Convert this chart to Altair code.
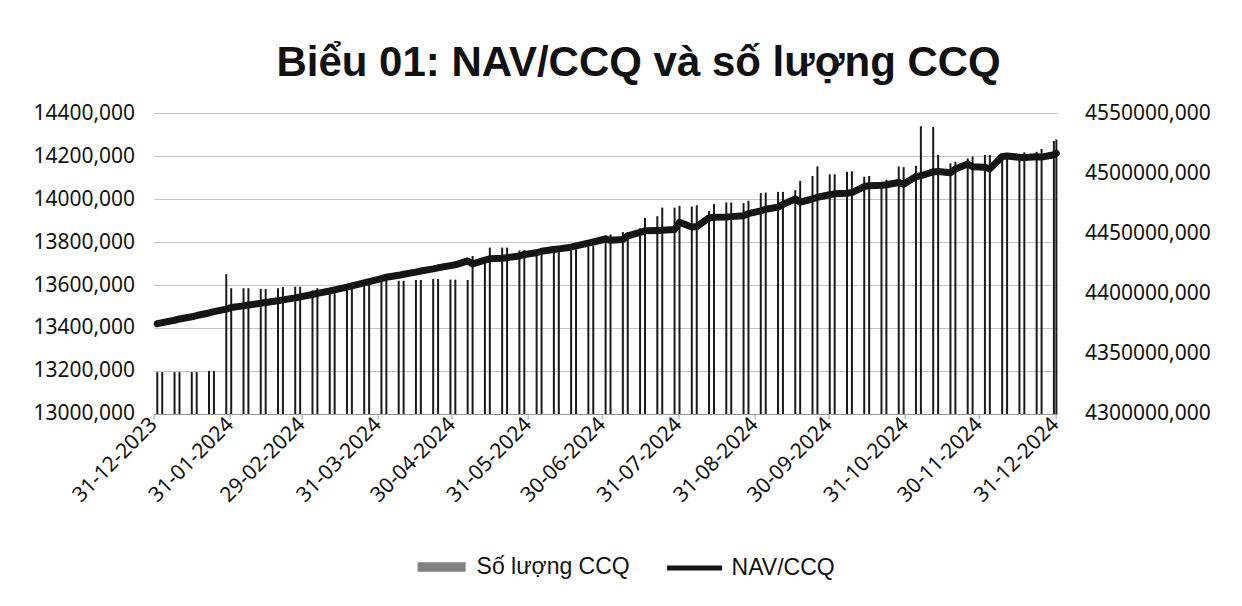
import altair as alt
import pandas as pd

DATES = [
    "2024-01-01", "2024-01-03", "2024-01-08", "2024-01-10", "2024-01-15", "2024-01-17", "2024-01-22", "2024-01-24", "2024-01-29", "2024-01-31",
    "2024-02-05", "2024-02-07", "2024-02-12", "2024-02-14", "2024-02-19", "2024-02-21", "2024-02-26", "2024-02-28",
    "2024-03-04", "2024-03-06", "2024-03-11", "2024-03-13", "2024-03-18", "2024-03-20", "2024-03-25", "2024-03-27",
    "2024-04-01", "2024-04-03", "2024-04-08", "2024-04-10", "2024-04-15", "2024-04-17", "2024-04-22", "2024-04-24", "2024-04-29",
    "2024-05-01", "2024-05-06", "2024-05-08", "2024-05-13", "2024-05-15", "2024-05-20", "2024-05-22", "2024-05-27", "2024-05-29",
    "2024-06-03", "2024-06-05", "2024-06-10", "2024-06-12", "2024-06-17", "2024-06-19", "2024-06-24", "2024-06-26",
    "2024-07-01", "2024-07-03", "2024-07-08", "2024-07-10", "2024-07-15", "2024-07-17", "2024-07-22", "2024-07-24", "2024-07-29", "2024-07-31",
    "2024-08-05", "2024-08-07", "2024-08-12", "2024-08-14", "2024-08-19", "2024-08-21", "2024-08-26", "2024-08-28",
    "2024-09-02", "2024-09-04", "2024-09-09", "2024-09-11", "2024-09-16", "2024-09-18", "2024-09-23", "2024-09-25", "2024-09-30",
    "2024-10-02", "2024-10-07", "2024-10-09", "2024-10-14", "2024-10-16", "2024-10-21", "2024-10-23", "2024-10-28", "2024-10-30",
    "2024-11-04", "2024-11-06", "2024-11-11", "2024-11-13", "2024-11-18", "2024-11-20", "2024-11-25", "2024-11-27",
    "2024-12-02", "2024-12-04", "2024-12-09", "2024-12-11", "2024-12-16", "2024-12-18", "2024-12-23", "2024-12-25", "2024-12-30", "2024-12-31",
]

NAV = [
    13420, 13425, 13436, 13442, 13452, 13458, 13470, 13476, 13488, 13495,
    13503, 13507, 13515, 13519, 13527, 13531, 13540, 13545,
    13556, 13561, 13572, 13577, 13590, 13596, 13610, 13616,
    13630, 13636, 13645, 13650, 13660, 13665, 13675, 13680, 13690,
    13694, 13712, 13698, 13716, 13722, 13724, 13727, 13735, 13742,
    13750, 13757, 13765, 13768, 13776, 13782, 13795, 13800,
    13814, 13808, 13812, 13828, 13845, 13852, 13854, 13855, 13858, 13892,
    13870, 13872, 13912, 13915, 13916, 13918, 13922, 13932,
    13945, 13952, 13962, 13975, 14000, 13985, 14000, 14008, 14020,
    14024, 14027, 14030, 14058, 14062, 14064, 14066, 14077, 14069,
    14105, 14108, 14126, 14128, 14122, 14140, 14163, 14150,
    14148, 14140, 14198, 14200, 14194, 14193, 14196, 14195, 14206, 14212,
]

UNITS = [
    4334800, 4334800, 4334800, 4334800, 4334800, 4334800, 4335700, 4335700, 4416100, 4404500,
    4404500, 4404500, 4403900, 4403900, 4404500, 4405400, 4405700, 4405700,
    4402700, 4404500, 4402500, 4405400, 4405400, 4405400, 4407100, 4407700,
    4410700, 4410700, 4410700, 4410700, 4411300, 4411300, 4412100, 4412100, 4411600,
    4411600, 4411300, 4431200, 4425900, 4438200, 4438200, 4438200, 4435700, 4436100,
    4433000, 4433000, 4435400, 4435400, 4436800, 4436800, 4439300, 4439600,
    4448200, 4449100, 4451100, 4451100, 4454300, 4462900, 4464300, 4471400, 4471400, 4472900,
    4472300, 4473400, 4468600, 4474300, 4475700, 4475700, 4475200, 4477100,
    4483400, 4483900, 4484500, 4484500, 4485900, 4493600, 4497700, 4505700, 4499100,
    4499100, 4501100, 4501600, 4497100, 4497700, 4491800, 4494500, 4505500, 4505000,
    4506100, 4538900, 4538400, 4515200, 4508200, 4509600, 4512300, 4513800,
    4515200, 4515200, 4515200, 4515200, 4515200, 4517300, 4517900, 4520000, 4526800, 4528000,
]

X_TICKS = ["2023-12-31", "2024-01-31", "2024-02-29", "2024-03-31", "2024-04-30", "2024-05-31",
           "2024-06-30", "2024-07-31", "2024-08-31", "2024-09-30", "2024-10-31", "2024-11-30", "2024-12-31"]
NAV_TICKS = [13000, 13200, 13400, 13600, 13800, 14000, 14200, 14400]
UNIT_TICKS = [4300000, 4350000, 4400000, 4450000, 4500000, 4550000]

TITLE = "Biểu 01: NAV/CCQ và số lượng CCQ"
BAR_NAME = "Số lượng CCQ"
LINE_NAME = "NAV/CCQ"

AXIS_FONT = "Noto Sans"
LEG_FONT = "Liberation Sans"


def dt(s):
    y, m, d = map(int, s.split("-"))
    return alt.DateTime(year=y, month=m, date=d)


df = pd.DataFrame({
    "date": [d + "T12:00:00" for d in DATES],
    "nav": NAV,
    "units": UNITS,
    "s_bar": BAR_NAME,
    "s_line": LINE_NAME,
})

x_enc = alt.X(
    "date:T",
    scale=alt.Scale(domain=[dt("2023-12-31"), dt("2025-01-01")], padding=0, nice=False),
    axis=alt.Axis(
        values=[dt(s) for s in X_TICKS], format="%d-%m-%Y", labelAngle=315,
        labelAlign="right", labelBaseline="middle", labelFont=AXIS_FONT, labelFontSize=21,
        labelColor="#111111", tickSize=5, tickColor="#9a9a9a", domainColor="#9a9a9a",
        labelPadding=2, grid=False, title=None, labelOverlap=False, labelFlush=False,
    ),
)

bars = alt.Chart(df).mark_bar(size=2).encode(
    x=x_enc,
    y=alt.Y(
        "units:Q",
        scale=alt.Scale(domain=[4300000, 4550000], zero=False, nice=False),
        axis=alt.Axis(
            orient="right", values=UNIT_TICKS, labelExpr="format(datum.value, 'd') + ',000'",
            grid=False, ticks=False, domain=False, labelPadding=27, labelFont=AXIS_FONT,
            labelFontSize=21, labelColor="#111111", title=None,
        ),
    ),
    y2=alt.datum(4300000),
    color=alt.Color(
        "s_bar:N", scale=alt.Scale(range=["#1a1a1a"]),
        legend=alt.Legend(
            orient="none", legendX=263, legendY=429, title=None,
            symbolType="M-1,-0.2H1V0.2H-1Z", symbolSize=2304, symbolOpacity=0.55,
            labelFont=LEG_FONT, labelFontSize=23, labelColor="#111111", labelOffset=10,
            padding=0,
        ),
    ),
)

line = alt.Chart(df).mark_line(strokeWidth=7, strokeCap="round", strokeJoin="round").encode(
    x=x_enc,
    y=alt.Y(
        "nav:Q",
        scale=alt.Scale(domain=[13000, 14400], zero=False, nice=False),
        axis=alt.Axis(
            orient="left", values=NAV_TICKS, labelExpr="format(datum.value, 'd') + ',000'",
            grid=True, gridColor="#c4c4c4", gridWidth=1, ticks=False, domain=False,
            labelPadding=19, labelFont=AXIS_FONT, labelFontSize=21, labelColor="#111111", title=None,
        ),
    ),
    color=alt.Color(
        "s_line:N", scale=alt.Scale(range=["#151515"]),
        legend=alt.Legend(
            orient="none", legendX=511, legendY=425, title=None,
            symbolType="stroke", symbolSize=3025, symbolStrokeWidth=5,
            labelFont=LEG_FONT, labelFontSize=23, labelColor="#111111", labelOffset=7,
            padding=0,
        ),
    ),
)

chart = alt.layer(bars, line).resolve_scale(
    y="independent", color="independent"
).properties(
    width=904,
    height=301,
    padding={"left": 145.6, "top": 105, "right": 160, "bottom": 175},
    autosize=alt.AutoSizeParams(type="none"),
    title=alt.TitleParams(
        TITLE, font="Liberation Sans", fontSize=42, fontWeight="bold", color="#111111",
        anchor="middle", frame="group", dx=33, dy=40, offset=24, baseline="alphabetic",
    ),
    background="white",
).configure_view(stroke=None)

chart.save("out.html", embed_options={"renderer": "svg", "actions": False})
